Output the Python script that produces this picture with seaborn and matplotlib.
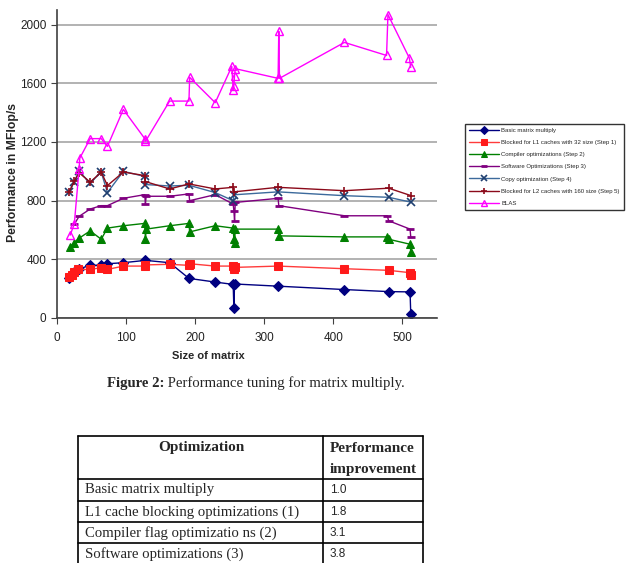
import seaborn as sns
import pandas as pd
import matplotlib.pyplot as plt

# series (matrix size -> MFlop/s)
basic_x = [18, 21, 25, 32, 48, 64, 73, 96, 128, 163, 191, 229, 255, 256, 257, 320, 416, 480, 511, 512]
basic_y = [274, 295, 315, 335, 359, 359, 370, 377, 393, 377, 270, 245, 229, 69, 232, 217, 194, 180, 178, 30]

l1_x = [18, 21, 25, 31, 48, 64, 73, 96, 127, 128, 163, 191, 192, 229, 255, 256, 257, 320, 416, 480, 511, 512]
l1_y = [281, 295, 313, 331, 331, 343, 331, 354, 354, 362, 366, 359, 370, 354, 354, 331, 345, 354, 336, 325, 309, 292]

comp_x = [19, 25, 32, 48, 64, 73, 96, 127, 128, 129, 163, 191, 192, 229, 255, 256, 257, 258, 320, 321, 416, 478, 480, 511, 512]
comp_y = [487, 514, 544, 594, 537, 613, 629, 645, 537, 606, 629, 645, 587, 629, 613, 537, 514, 606, 606, 560, 553, 553, 537, 503, 453]

soft_x = [25, 32, 48, 64, 73, 96, 127, 128, 129, 163, 191, 192, 229, 255, 256, 257, 258, 320, 321, 416, 478, 480, 511, 512]
soft_y = [640, 693, 743, 766, 766, 816, 841, 777, 830, 830, 846, 800, 841, 777, 731, 663, 788, 816, 766, 697, 697, 663, 606, 553]

copy_x = [18, 25, 32, 48, 64, 73, 96, 127, 128, 163, 191, 229, 255, 256, 320, 416, 480, 512]
copy_y = [860, 930, 1000, 920, 995, 855, 1000, 965, 910, 900, 905, 855, 800, 840, 860, 834, 823, 790]

l2_x = [18, 25, 32, 48, 64, 73, 96, 127, 128, 163, 191, 229, 255, 256, 320, 416, 480, 512]
l2_y = [862, 935, 990, 926, 995, 903, 995, 971, 930, 880, 914, 880, 891, 860, 891, 868, 885, 835]

blas_x = [19, 25, 32, 33, 48, 64, 73, 96, 127, 128, 163, 191, 192, 229, 253, 255, 256, 257, 258, 320, 321, 322, 416, 477, 479, 510, 512]
blas_y = [565, 640, 1017, 1090, 1223, 1223, 1170, 1422, 1223, 1204, 1479, 1479, 1641, 1468, 1715, 1555, 1584, 1652, 1700, 1634, 1955, 1634, 1879, 1790, 2069, 1772, 1708]

names = ["Basic matrix multiply",
         "Blocked for L1 caches with 32 size (Step 1)",
         "Compiler optimizations (Step 2)",
         "Software Optimizations (Step 3)",
         "Copy optimization (Step 4)",
         "Blocked for L2 caches with 160 size (Step 5)",
         "BLAS"]
xs = [basic_x, l1_x, comp_x, soft_x, copy_x, l2_x, blas_x]
ys = [basic_y, l1_y, comp_y, soft_y, copy_y, l2_y, blas_y]

# table under the caption
tab_rows = ["Basic matrix multiply", "L1 cache blocking optimizations (1)",
            "Compiler flag optimizatio ns (2)", "Software optimizations (3)"]
tab_vals = ["1.0", "1.8", "3.1", "3.8"]

rows = []
for n, xx, yy in zip(names, xs, ys):
    for a, b in zip(xx, yy):
        rows.append({"series": n, "size": a, "mflops": b})
df = pd.DataFrame(rows)

styles = {
    names[0]: dict(color="#000080", marker="D", markerfacecolor="#000080", markeredgecolor="#000080"),
    names[1]: dict(color="#ff3b3b", marker="s", markerfacecolor="#ff1a1a", markeredgecolor="#ff1a1a"),
    names[2]: dict(color="#008000", marker="^", markerfacecolor="#008000", markeredgecolor="#008000"),
    names[3]: dict(color="#800080", marker="_", markerfacecolor="#800080", markeredgecolor="#800080", markeredgewidth=2),
    names[4]: dict(color="#3c6a9c", marker="x", markerfacecolor="#1f3f70", markeredgecolor="#1f3f70", markeredgewidth=1.2),
    names[5]: dict(color="#8b0a1a", marker="+", markerfacecolor="#8b0a1a", markeredgecolor="#8b0a1a", markeredgewidth=1.2),
    names[6]: dict(color="#ff00ff", marker="^", markerfacecolor="none", markeredgecolor="#ff00ff", markeredgewidth=1),
}

sns.set_style("white")
plt.rcParams['font.family'] = ['Liberation Sans', 'DejaVu Sans']

fig = plt.figure(figsize=(6.33, 5.63), dpi=100)
ax = fig.add_axes([57 / 633, 1 - 318 / 563, 380 / 633, 308 / 563])

for n in names:
    sns.lineplot(data=df[df.series == n], x="size", y="mflops", estimator=None, sort=False,
                 ax=ax, linewidth=1, markersize=5.5, label=n, **styles[n])

ax.set_xlim(0, 550)
ax.set_ylim(0, 2100)
ax.set_xticks([0, 100, 200, 300, 400, 500])
ax.set_yticks([0, 400, 800, 1200, 1600, 2000])
ax.yaxis.grid(True, color="#a6a6a6", linewidth=1.2)
ax.set_axisbelow(True)
for s in ["top", "right"]:
    ax.spines[s].set_visible(False)
for s in ["left", "bottom"]:
    ax.spines[s].set_color("#404040")
    ax.spines[s].set_linewidth(1.2)
ax.tick_params(axis="both", labelsize=8.5, length=4, color="#404040", direction="out",
               left=True, bottom=True, labelcolor="#222222")
ax.tick_params(axis="x", pad=6)
ax.set_xlabel("Size of matrix", fontsize=8, fontweight="bold")
ax.set_ylabel("Performance in MFlop/s", fontsize=8.8, fontweight="bold")
ax.xaxis.set_label_coords((208 - 57) / 380, -(356 - 318) / 308)
ax.yaxis.set_label_coords((13 - 57) / 380, (318 - 172) / 308)
ax.yaxis.label.set_va("center")
ax.xaxis.label.set_va("center")

h, l = ax.get_legend_handles_labels()
if ax.get_legend():
    ax.get_legend().remove()
leg = fig.legend(h, l, loc="upper left", bbox_to_anchor=(462 / 633, 1 - 121 / 563),
                 fontsize=4.3, frameon=True, fancybox=False, edgecolor="black",
                 handlelength=5, handletextpad=0.4, labelspacing=1.15, borderpad=0.7,
                 markerscale=0.8)
leg.get_frame().set_linewidth(1)

# caption and table drawn on a pixel-coordinate overlay
ov = fig.add_axes([0, 0, 1, 1], zorder=-1)
ov.set_xlim(0, 633)
ov.set_ylim(563, 0)
ov.axis("off")

serif = ['Liberation Serif', 'DejaVu Serif']
cap1 = ov.text(107, 383, "Figure 2:", family=serif, fontsize=10.6, fontweight="bold", va="center")
ov.annotate(" Performance tuning for matrix multiply.", xy=(1, 0.5), xycoords=cap1,
            family=serif, fontsize=10.6, va="center")

lw = 1.2
ov.plot([78, 423], [436, 436], color="black", lw=lw)
for yy in [479, 501, 522, 543]:
    ov.plot([78, 423], [yy, yy], color="black", lw=lw)
for xx in [78, 323, 423]:
    ov.plot([xx, xx], [436, 563], color="black", lw=lw)

ov.text(201, 448, "Optimization", family=serif, fontsize=11, fontweight="bold", ha="center", va="center")
ov.text(330, 448, "Performance", family=serif, fontsize=11, fontweight="bold", va="center")
ov.text(330, 469, "improvement", family=serif, fontsize=11, fontweight="bold", va="center")
row_y = [490, 512, 533, 554]
for t, v, yy in zip(tab_rows, tab_vals, row_y):
    ov.text(85, yy, t, family=serif, fontsize=10.6, va="center")
    ov.text(330, yy, v, fontsize=8.5, va="center")

fig.savefig("out.png", dpi=100)
